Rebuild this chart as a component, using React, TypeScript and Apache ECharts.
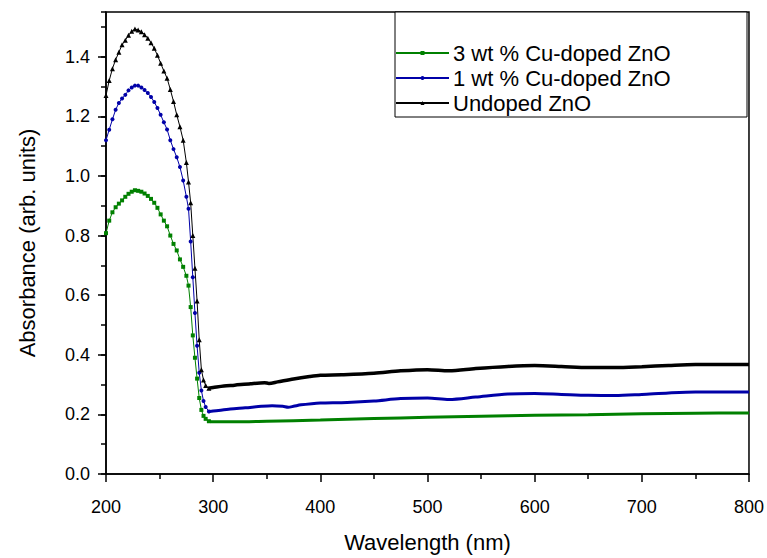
import React, { useEffect, useRef } from "react";
import * as echarts from "echarts";

// Wavelength (nm) and absorbance (arb. units)
const undopedPeakWl = [200, 203, 206, 209, 212, 215, 218, 221, 224, 227, 230, 233, 236, 239, 242, 245, 248, 251, 254, 257, 260, 263, 266, 269, 272, 275, 277, 279, 281, 283, 285, 287, 289, 291, 293, 296];
const undopedPeakAbs = [1.27, 1.32, 1.36, 1.39, 1.415, 1.44, 1.455, 1.472, 1.485, 1.493, 1.49, 1.484, 1.474, 1.462, 1.447, 1.428, 1.405, 1.378, 1.352, 1.328, 1.29, 1.25, 1.205, 1.165, 1.12, 1.045, 0.98, 0.91, 0.8, 0.69, 0.58, 0.45, 0.35, 0.315, 0.297, 0.288];
const undopedTailWl = [296, 300, 310, 320, 335, 348, 352, 360, 375, 390, 400, 420, 450, 475, 500, 520, 545, 575, 600, 625, 650, 675, 700, 725, 750, 800];
const undopedTailAbs = [0.288, 0.29, 0.295, 0.298, 0.303, 0.306, 0.304, 0.309, 0.319, 0.327, 0.331, 0.333, 0.338, 0.346, 0.35, 0.346, 0.354, 0.361, 0.364, 0.361, 0.357, 0.357, 0.36, 0.364, 0.367, 0.367];

const cu1PeakWl = [200, 203, 206, 209, 212, 215, 218, 221, 224, 227, 230, 233, 236, 239, 242, 245, 248, 251, 254, 257, 260, 263, 266, 269, 272, 275, 277, 279, 281, 283, 285, 287, 289, 291, 293, 296];
const cu1PeakAbs = [1.12, 1.155, 1.19, 1.222, 1.245, 1.26, 1.272, 1.287, 1.297, 1.303, 1.303, 1.297, 1.288, 1.278, 1.265, 1.248, 1.228, 1.205, 1.18, 1.156, 1.12, 1.09, 1.063, 1.03, 0.985, 0.93, 0.89, 0.78, 0.66, 0.54, 0.43, 0.34, 0.28, 0.245, 0.225, 0.21];
const cu1TailWl = [296, 300, 316, 330, 345, 355, 365, 370, 375, 382, 392, 400, 425, 450, 475, 500, 520, 545, 575, 600, 625, 650, 675, 700, 725, 750, 800];
const cu1TailAbs = [0.21, 0.211, 0.218, 0.222, 0.227, 0.229, 0.227, 0.224, 0.227, 0.232, 0.236, 0.238, 0.24, 0.245, 0.253, 0.255, 0.25, 0.258, 0.268, 0.27, 0.267, 0.264, 0.263, 0.267, 0.272, 0.275, 0.275];

const cu3PeakWl = [200, 203, 206, 209, 212, 215, 218, 221, 224, 227, 230, 233, 236, 239, 242, 245, 248, 251, 254, 257, 260, 263, 266, 269, 272, 275, 277, 279, 281, 283, 285, 287, 289, 291, 293, 296];
const cu3PeakAbs = [0.808, 0.85, 0.878, 0.895, 0.907, 0.918, 0.93, 0.94, 0.947, 0.952, 0.95, 0.947, 0.941, 0.933, 0.923, 0.91, 0.893, 0.871, 0.85, 0.831, 0.8, 0.772, 0.75, 0.72, 0.695, 0.665, 0.632, 0.56, 0.465, 0.39, 0.32, 0.255, 0.215, 0.195, 0.185, 0.177];
const cu3TailWl = [296, 300, 320, 350, 400, 450, 500, 550, 600, 650, 700, 750, 800];
const cu3TailAbs = [0.177, 0.175, 0.175, 0.177, 0.181, 0.186, 0.19, 0.194, 0.197, 0.199, 0.202, 0.204, 0.205];

const seriesNames = ["3 wt % Cu-doped ZnO", "1 wt % Cu-doped ZnO", "Undoped ZnO"];
const xTicks = { min: 200, max: 800, interval: 100 };
const yTicks = { min: 0, max: 1.55, interval: 0.2 };

const FONT = "'Liberation Sans', Arial, Helvetica, sans-serif";

const zip = (xs: number[], ys: number[]) => xs.map((x, i) => [x, ys[i]]);

export default function App() {
  const ref = useRef<HTMLDivElement>(null);
  useEffect(() => {
    if (!ref.current) return;
    const chart = echarts.init(ref.current, undefined, { renderer: "svg" });

    const curves = [
      { name: seriesNames[0], color: "#008000", symbol: "rect", size: 4, peak: zip(cu3PeakWl, cu3PeakAbs), tail: zip(cu3TailWl, cu3TailAbs), tailWidth: 3 },
      { name: seriesNames[1], color: "#0000a8", symbol: "circle", size: 4, peak: zip(cu1PeakWl, cu1PeakAbs), tail: zip(cu1TailWl, cu1TailAbs), tailWidth: 3 },
      { name: seriesNames[2], color: "#000000", symbol: "triangle", size: 5, peak: zip(undopedPeakWl, undopedPeakAbs), tail: zip(undopedTailWl, undopedTailAbs), tailWidth: 3.5 },
    ];

    const series: any[] = [];
    curves.forEach((c) => {
      series.push({
        name: c.name,
        type: "line",
        data: c.peak,
        symbol: c.symbol,
        symbolSize: c.size,
        showSymbol: true,
        lineStyle: { color: c.color, width: 1 },
        itemStyle: { color: c.color },
        emphasis: { disabled: true },
      });
    });
    curves.forEach((c) => {
      series.push({
        name: c.name,
        type: "line",
        data: c.tail,
        symbol: "none",
        smooth: 0.3,
        lineStyle: { color: c.color, width: c.tailWidth },
        itemStyle: { color: c.color },
        emphasis: { disabled: true },
      });
    });

    chart.setOption({
      animation: false,
      textStyle: { fontFamily: FONT, color: "#000" },
      grid: { left: 106, right: 18, top: 12, bottom: 77, show: true, borderColor: "#000", borderWidth: 1.5 },
      graphic: [
        {
          type: "rect",
          shape: { x: 395, y: 12, width: 352, height: 105 },
          style: { fill: "#fff", stroke: "#000", lineWidth: 1 },
          z: 5,
        },
      ],
      legend: {
        data: seriesNames,
        orient: "vertical",
        left: 395,
        top: 42,
        padding: 0,
        itemWidth: 53,
        itemHeight: 5,
        itemGap: 3,
        z: 10,
        textStyle: { fontFamily: FONT, fontSize: 22, color: "#000", padding: [0, 0, 0, -1] },
        selectedMode: false,
      },
      xAxis: {
        type: "value",
        min: xTicks.min,
        max: xTicks.max,
        interval: xTicks.interval,
        name: "Wavelength (nm)",
        nameLocation: "middle",
        nameGap: 57,
        nameTextStyle: { fontFamily: FONT, fontSize: 22, color: "#000" },
        axisLine: { show: true, lineStyle: { color: "#000", width: 1.5 } },
        axisTick: { show: true, inside: false, length: 8, lineStyle: { color: "#000", width: 1.5 } },
        minorTick: { show: true, splitNumber: 2, length: 5, lineStyle: { color: "#000", width: 1.5 } },
        axisLabel: { fontFamily: FONT, fontSize: 18, color: "#000", margin: 24 },
        splitLine: { show: false },
      },
      yAxis: [
        {
          type: "value",
          min: yTicks.min,
          max: yTicks.max,
          interval: yTicks.interval,
          name: "Absorbance (arb. units)",
          nameLocation: "middle",
          nameGap: 68,
          nameTextStyle: { fontFamily: FONT, fontSize: 22, color: "#000" },
          axisLine: { show: true, lineStyle: { color: "#000", width: 1.5 } },
          axisTick: { show: true, inside: false, length: 8, lineStyle: { color: "#000", width: 1.5 } },
          axisLabel: { fontFamily: FONT, fontSize: 18, color: "#000", margin: 16, showMaxLabel: false, formatter: (v: number) => v.toFixed(1) },
          splitLine: { show: false },
        },
        {
          type: "value",
          position: "left",
          min: yTicks.min,
          max: yTicks.max,
          interval: yTicks.interval / 2,
          axisLine: { show: false },
          axisTick: { show: true, inside: false, length: 5, lineStyle: { color: "#000", width: 1.5 } },
          axisLabel: { show: false },
          splitLine: { show: false },
        },
      ],
      series,
    });
    return () => chart.dispose();
  }, []);
  return <div ref={ref} style={{ position: "absolute", left: 0, top: 0, width: 767, height: 558 }} />;
}
